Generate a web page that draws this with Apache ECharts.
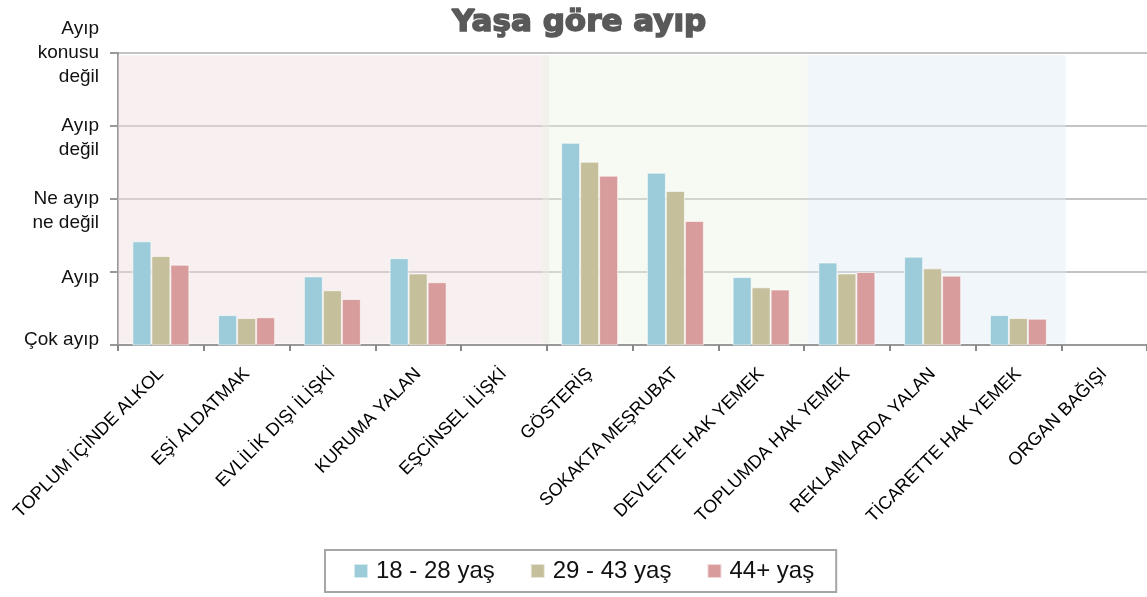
<!DOCTYPE html>
<html>
<head>
<meta charset="utf-8">
<script src="https://cdn.jsdelivr.net/npm/echarts@6/dist/echarts.min.js"></script>
<style>
  html, body { margin: 0; padding: 0; background: #fff; }
  #chart { width: 1147px; height: 597px; }
</style>
</head>
<body>
<div id="chart"></div>
<script>
const categories = [
  'TOPLUM İÇİNDE ALKOL', 'EŞİ ALDATMAK', 'EVLİLİK DIŞI İLİŞKİ', 'KURUMA YALAN',
  'EŞCİNSEL İLİŞKİ', 'GÖSTERİŞ', 'SOKAKTA MEŞRUBAT', 'DEVLETTE HAK YEMEK',
  'TOPLUMDA HAK YEMEK', 'REKLAMLARDA YALAN', 'TİCARETTE HAK YEMEK', 'ORGAN BAĞIŞI'
];
const ageGroups = ['18 - 28 yaş', '29 - 43 yaş', '44+ yaş'];
const young = [2.42, 1.41, 1.94, 2.19, null, 3.77, 3.36, 1.93, 2.13, 2.21, 1.41, null];
const middle = [2.22, 1.37, 1.75, 1.98, null, 3.51, 3.11, 1.79, 1.98, 2.05, 1.37, null];
const older = [2.10, 1.38, 1.63, 1.86, null, 3.32, 2.70, 1.76, 2.00, 1.95, 1.36, null];
const levelLabels = ['Çok ayıp', 'Ayıp', 'Ne ayıp\nne değil', 'Ayıp\ndeğil', 'Ayıp\nkonusu\ndeğil'];
// category index ranges of the shaded topic groups
const groupRanges = [[0, 5.03], [4.95, 8.04], [8.04, 11.05]];

const barColors = ['#9ccbd9', '#c6bf9c', '#d99c9c'];
const groupColors = ['rgba(240,222,222,0.45)', 'rgba(236,242,222,0.4)', 'rgba(222,236,245,0.45)'];

const chart = echarts.init(document.getElementById('chart'));
const font = 'Liberation Sans';

const option = {
  animation: false,
  title: {
    text: 'Yaşa göre ayıp',
    left: 452,
    top: 7,
    padding: 0,
    textStyle: {
      fontFamily: 'DejaVu Sans', fontSize: 31, fontWeight: 'bold', color: '#595959',
      textBorderColor: '#595959', textBorderWidth: 1.6
    }
  },
  legend: {
    data: ageGroups,
    left: 325,
    top: 550,
    icon: 'rect',
    itemWidth: 14,
    itemHeight: 14,
    itemGap: 35,
    borderColor: '#a6a6a6',
    borderWidth: 2,
    padding: [9, 22, 9, 28],
    textStyle: { fontFamily: font, fontSize: 24, color: '#111', padding: [0, 0, 0, 3] }
  },
  grid: { left: 118, right: 0, top: 53, bottom: 252 },
  xAxis: [
    {
      type: 'category',
      data: categories,
      axisLine: { lineStyle: { color: '#999', width: 2 } },
      axisTick: { show: true, length: 6, lineStyle: { color: '#888', width: 2 } },
      axisLabel: { interval: 0, rotate: 45, margin: 26, fontFamily: font, fontSize: 18, color: '#000' }
    },
    { type: 'value', min: 0, max: 12, show: false }
  ],
  yAxis: {
    type: 'value',
    min: 1,
    max: 5,
    interval: 1,
    axisLine: { show: true, lineStyle: { color: '#999', width: 2 } },
    axisTick: { show: true, length: 8, lineStyle: { color: '#999', width: 2 } },
    splitLine: { lineStyle: { color: '#c4c4c4', width: 2 } },
    axisLabel: {
      margin: 19,
      fontFamily: font,
      fontSize: 19,
      lineHeight: 24,
      color: '#111',
      formatter: function (v) {
        const t = levelLabels[v - 1];
        if (v === 1) return '{up|' + t + '}';
        if (v === 2) return '{dn|' + t + '}';
        if (v === 3 || v === 4) return ' \n' + t;
        return t;
      },
      rich: {
        up: { fontFamily: font, fontSize: 19, color: '#111', padding: [0, 0, 10, 0] },
        dn: { fontFamily: font, fontSize: 19, color: '#111', padding: [12, 0, 0, 0] }
      }
    }
  },
  series: [
    {
      type: 'line',
      xAxisIndex: 1,
      data: [],
      silent: true,
      markArea: {
        silent: true,
        data: groupRanges.map((r, i) => [
          { coord: [r[0], 1.02], itemStyle: { color: groupColors[i] } },
          { coord: [r[1], 4.97] }
        ])
      }
    },
    ...[young, middle, older].map((vals, i) => ({
      name: ageGroups[i],
      type: 'bar',
      data: vals,
      barWidth: 19,
      barGap: '0%',
      itemStyle: { color: barColors[i], borderColor: 'rgba(255,255,255,0.6)', borderWidth: 1 }
    }))
  ]
};

chart.setOption(option);
</script>
</body>
</html>
